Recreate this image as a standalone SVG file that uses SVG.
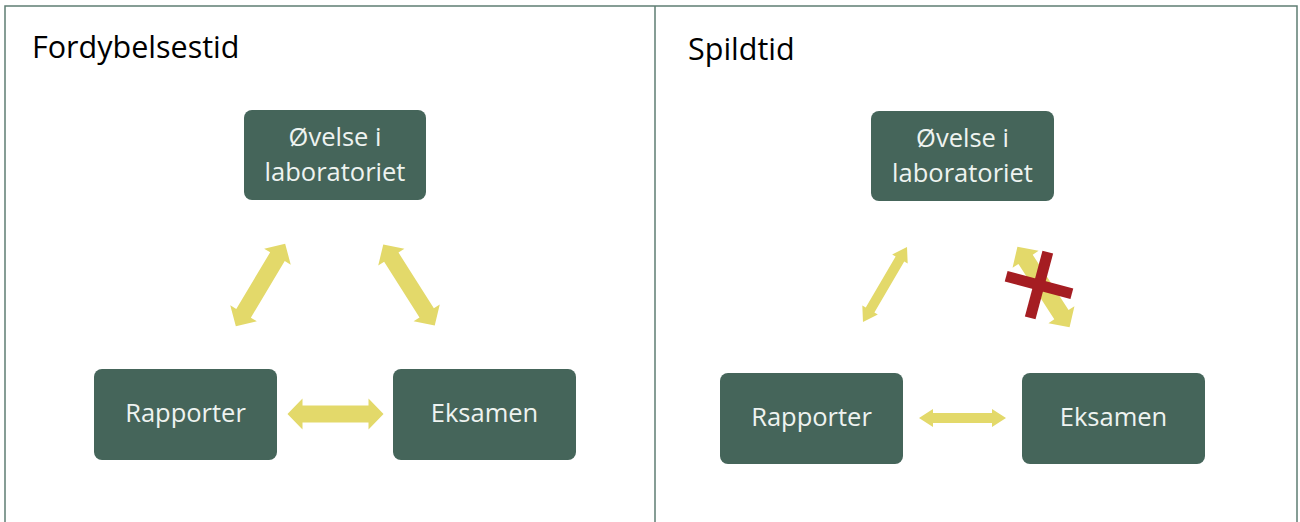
<svg xmlns="http://www.w3.org/2000/svg" width="1300" height="522" viewBox="0 0 1300 522">
<style>
.frame{fill:none;stroke:#5f7d73;stroke-width:1.5}
.title{font-family:"Open Sans","Noto Sans",sans-serif;font-size:30.5px;fill:#000}
.box{fill:#45655a}
.lbl{font-family:"Open Sans","Noto Sans",sans-serif;font-size:25.5px;fill:#eef3f0;text-anchor:middle}
.arr{fill:#e3d96a}
.x{fill:#a51d22}
</style>
<defs>
<polygon id="thick" points="-48,0 -33,-15.5 -33,-8.5 33,-8.5 33,-15.5 48,0 33,15.5 33,8.5 -33,8.5 -33,15.5"/>
<polygon id="thin" points="-43.5,0 -29.5,-9 -29.5,-5 29.5,-5 29.5,-9 43.5,0 29.5,9 29.5,5 -29.5,5 -29.5,9"/>
</defs>
<rect width="1300" height="522" fill="#fff"/>
<g id="frame">
<path class="frame" d="M5,522 V6 H1297 V522 M655,6 V522"/>
</g>
<text class="title" x="32" y="58">Fordybelsestid</text>
<text class="title" x="688" y="60">Spildtid</text>
<g id="connectors">
<use href="#thick" class="arr" transform="translate(260.5,285) rotate(120.9)"/>
<use href="#thick" class="arr" transform="translate(409,285) rotate(57.6)"/>
<use href="#thick" class="arr" transform="translate(335.5,414)"/>
<use href="#thin" class="arr" transform="translate(885,284.5) rotate(120.4)"/>
<use href="#thin" class="arr" transform="translate(962.5,418)"/>
<use href="#thick" class="arr" transform="translate(1043.5,287) rotate(57.1)"/>
<g id="cross" class="x">
<rect x="-5.5" y="-34" width="11" height="68" transform="translate(1039,285) rotate(15)"/>
<rect x="-34" y="-5.5" width="68" height="11" transform="translate(1039,285) rotate(15)"/>
</g>
</g>
<g id="l-ovelse">
<rect class="box" x="244" y="110" width="182" height="90" rx="8"/>
<text class="lbl" x="335" y="146">Øvelse i</text>
<text class="lbl" x="335" y="181">laboratoriet</text>
</g>
<g id="l-rapporter">
<rect class="box" x="94" y="369" width="183" height="91" rx="8"/>
<text class="lbl" x="185.5" y="422">Rapporter</text>
</g>
<g id="l-eksamen">
<rect class="box" x="393" y="369" width="183" height="91" rx="8"/>
<text class="lbl" x="484.5" y="422">Eksamen</text>
</g>
<g id="r-ovelse">
<rect class="box" x="871" y="111" width="183" height="90" rx="8"/>
<text class="lbl" x="962.5" y="147">Øvelse i</text>
<text class="lbl" x="962.5" y="182">laboratoriet</text>
</g>
<g id="r-rapporter">
<rect class="box" x="720" y="373" width="183" height="91" rx="8"/>
<text class="lbl" x="811.5" y="426">Rapporter</text>
</g>
<g id="r-eksamen">
<rect class="box" x="1022" y="373" width="183" height="91" rx="8"/>
<text class="lbl" x="1113.5" y="426">Eksamen</text>
</g>
</svg>
